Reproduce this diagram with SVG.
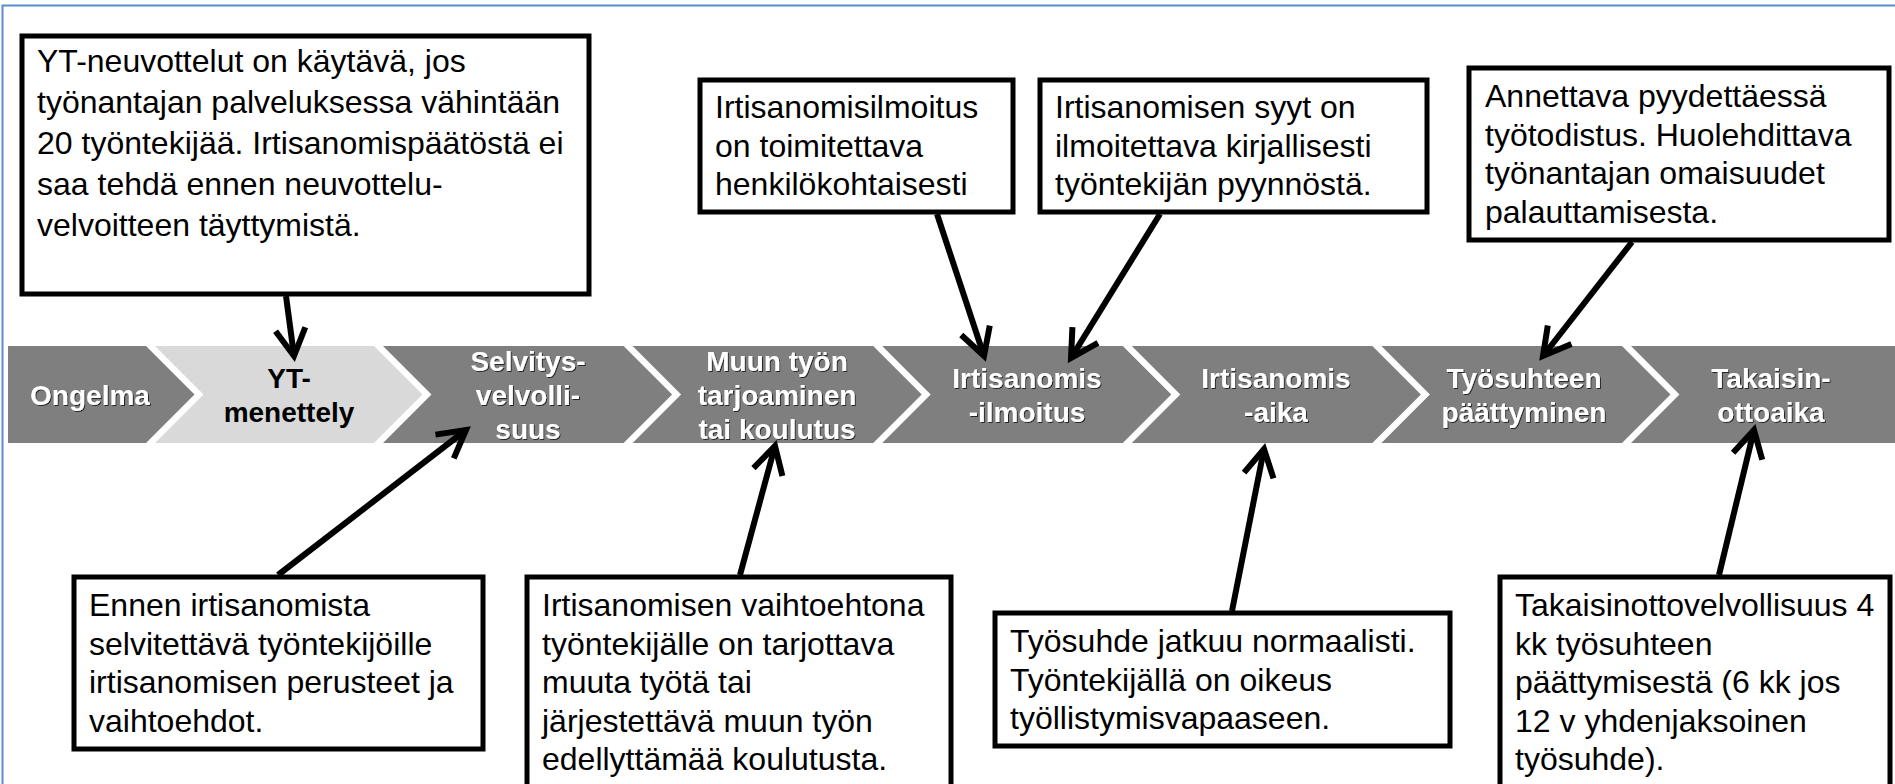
<svg xmlns="http://www.w3.org/2000/svg" width="1895" height="784" viewBox="0 0 1895 784">
<defs>
<style>
.bx{fill:#fff;stroke:#000;stroke-width:5}
.bt{font-family:"Liberation Sans",Arial,sans-serif;font-size:32px;fill:#000}
.dk{fill:#7f7f7f}
.lt{fill:#d9d9d9}
.ct{font-family:"Liberation Sans",Arial,sans-serif;font-size:28px;font-weight:bold;fill:#fff;text-anchor:middle;filter:url(#sh)}
.cb{font-family:"Liberation Sans",Arial,sans-serif;font-size:28px;font-weight:bold;fill:#000;text-anchor:middle}
.ar{fill:none;stroke:#000;stroke-width:6;marker-end:url(#ah)}
</style>
<filter id="sh" x="-10%" y="-20%" width="120%" height="140%">
<feDropShadow dx="1" dy="1" stdDeviation="0.6" flood-color="#000" flood-opacity="0.7"/>
</filter>
<marker id="ah" markerUnits="userSpaceOnUse" markerWidth="60" markerHeight="60" viewBox="-40 -30 60 60" refX="0" refY="0" orient="auto" overflow="visible">
<path d="M-27,-15 L0,0 L-27,15" fill="none" stroke="#000" stroke-width="6"/>
</marker>
</defs>
<rect x="0" y="0" width="1895" height="784" fill="#fff"/>
<rect x="2.5" y="5.5" width="1900" height="800" fill="none" stroke="#5b8bd0" stroke-width="2"/>

<g id="band">
<g id="n-ongelma"><path class="dk" d="M8,346 H146 L194.5,394.5 L146,443 H8 Z"/><text class="ct" x="90" y="404.5">Ongelma</text></g>
<g id="n-yt"><path class="lt" d="M155,346 H374 L422.5,394.5 L374,443 H155 L203.5,394.5 Z"/><text class="cb" x="289" y="387.5">YT-</text><text class="cb" x="289" y="421.5">menettely</text></g>
<g id="n-selvitys"><path class="dk" d="M383,346 H623.6 L672.1,394.5 L623.6,443 H383 L431.5,394.5 Z"/><text class="ct" x="528" y="370.5">Selvitys-</text><text class="ct" x="528" y="404.5">velvolli-</text><text class="ct" x="528" y="438.5">suus</text></g>
<g id="n-muun"><path class="dk" d="M632.6,346 H873.2 L921.7,394.5 L873.2,443 H632.6 L681.1,394.5 Z"/><text class="ct" x="777" y="370.5">Muun työn</text><text class="ct" x="777" y="404.5">tarjoaminen</text><text class="ct" x="777" y="438.5">tai koulutus</text></g>
<g id="n-ilmoitus"><path class="dk" d="M882.2,346 H1122.8 L1171.3,394.5 L1122.8,443 H882.2 L930.7,394.5 Z"/><text class="ct" x="1027" y="387.5">Irtisanomis</text><text class="ct" x="1027" y="421.5">-ilmoitus</text></g>
<g id="n-aika"><path class="dk" d="M1131.8,346 H1372.4 L1420.9,394.5 L1372.4,443 H1131.8 L1180.3,394.5 Z"/><text class="ct" x="1276" y="387.5">Irtisanomis</text><text class="ct" x="1276" y="421.5">-aika</text></g>
<g id="n-paattyminen"><path class="dk" d="M1381.4,346 H1622 L1670.5,394.5 L1622,443 H1381.4 L1429.9,394.5 Z"/><text class="ct" x="1524" y="387.5">Työsuhteen</text><text class="ct" x="1524" y="421.5">päättyminen</text></g>
<g id="n-takaisin"><path class="dk" d="M1631,346 H1895 V443 H1631 L1679.5,394.5 Z"/><text class="ct" x="1771" y="387.5">Takaisin-</text><text class="ct" x="1771" y="421.5">ottoaika</text></g>
</g>

<g id="note-yt">
<rect class="bx" x="22" y="36" width="567" height="258"/>
<text class="bt" x="37" y="72">YT-neuvottelut on käytävä, jos</text>
<text class="bt" x="37" y="113">työnantajan palveluksessa vähintään</text>
<text class="bt" x="37" y="154">20 työntekijää. Irtisanomispäätöstä ei</text>
<text class="bt" x="37" y="195">saa tehdä ennen neuvottelu-</text>
<text class="bt" x="37" y="236">velvoitteen täyttymistä.</text>
</g>

<g id="note-ilmoitus">
<rect class="bx" x="700" y="80" width="313" height="132"/>
<text class="bt" x="715" y="118">Irtisanomisilmoitus</text>
<text class="bt" x="715" y="156.5">on toimitettava</text>
<text class="bt" x="715" y="195">henkilökohtaisesti</text>
</g>

<g id="note-syyt">
<rect class="bx" x="1040" y="80" width="387" height="132"/>
<text class="bt" x="1055" y="118">Irtisanomisen syyt on</text>
<text class="bt" x="1055" y="156.5">ilmoitettava kirjallisesti</text>
<text class="bt" x="1055" y="195">työntekijän pyynnöstä.</text>
</g>

<g id="note-todistus">
<rect class="bx" x="1469" y="68" width="420" height="172"/>
<text class="bt" x="1485" y="107">Annettava pyydettäessä</text>
<text class="bt" x="1485" y="145.5">työtodistus. Huolehdittava</text>
<text class="bt" x="1485" y="184">työnantajan omaisuudet</text>
<text class="bt" x="1485" y="222.5">palauttamisesta.</text>
</g>

<g id="note-selvitys">
<rect class="bx" x="74" y="577" width="409" height="172"/>
<text class="bt" x="89" y="616">Ennen irtisanomista</text>
<text class="bt" x="89" y="654.5">selvitettävä työntekijöille</text>
<text class="bt" x="89" y="693">irtisanomisen perusteet ja</text>
<text class="bt" x="89" y="731.5">vaihtoehdot.</text>
</g>

<g id="note-muu-tyo">
<rect class="bx" x="527" y="577" width="424" height="230"/>
<text class="bt" x="542" y="616">Irtisanomisen vaihtoehtona</text>
<text class="bt" x="542" y="654.5">työntekijälle on tarjottava</text>
<text class="bt" x="542" y="693">muuta työtä tai</text>
<text class="bt" x="542" y="731.5">järjestettävä muun työn</text>
<text class="bt" x="542" y="770">edellyttämää koulutusta.</text>
</g>

<g id="note-aika">
<rect class="bx" x="995" y="613" width="455" height="133"/>
<text class="bt" x="1010" y="652">Työsuhde jatkuu normaalisti.</text>
<text class="bt" x="1010" y="690.5">Työntekijällä on oikeus</text>
<text class="bt" x="1010" y="729">työllistymisvapaaseen.</text>
</g>

<g id="note-takaisin">
<rect class="bx" x="1500" y="577" width="390" height="230"/>
<text class="bt" x="1515" y="616">Takaisinottovelvollisuus 4</text>
<text class="bt" x="1515" y="654.5">kk työsuhteen</text>
<text class="bt" x="1515" y="693">päättymisestä (6 kk jos</text>
<text class="bt" x="1515" y="731.5">12 v yhdenjaksoinen</text>
<text class="bt" x="1515" y="770">työsuhde).</text>
</g>

<g id="connectors">
<path class="ar" d="M286,296 L294,356"/>
<path class="ar" d="M937,214 L984,356"/>
<path class="ar" d="M1160,214 L1071,358"/>
<path class="ar" d="M1632,242 L1543,356"/>
<path class="ar" d="M278,575 L466,430"/>
<path class="ar" d="M740,575 L775,446"/>
<path class="ar" d="M1232,611 L1264,449"/>
<path class="ar" d="M1719,575 L1754,430"/>
</g>
</svg>
